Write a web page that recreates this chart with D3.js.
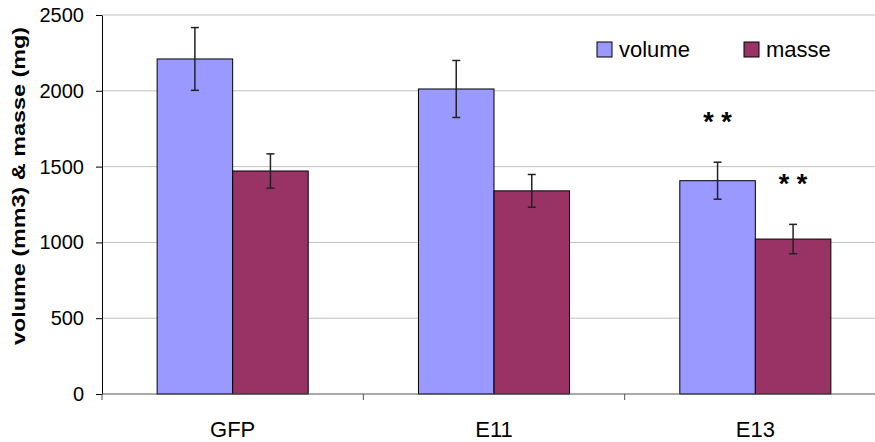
<!DOCTYPE html>
<html><head><meta charset="utf-8">
<script src="https://cdn.jsdelivr.net/npm/d3@7"></script>
<style>body{margin:0;background:#fff}svg{display:block}text{font-family:"Liberation Sans",Arial,sans-serif}</style>
</head><body><svg id="c" width="875" height="442"></svg>
<script>
const categories = ["GFP", "E11", "E13"];
const seriesNames = ["volume", "masse"];
const volume = [2210, 2012, 1407];
const volumeErr = [207, 188, 122];
const masse = [1471, 1340, 1022];
const masseErr = [113, 108, 97];
const yTicks = [0, 500, 1000, 1500, 2000, 2500];
const significance = [{cat: "E13", series: "volume", label: "* *"}, {cat: "E13", series: "masse", label: "* *"}];

const colors = {volume: "#9999ff", masse: "#993366"};
const data = categories.map((c, i) => ({cat: c, values: [
  {series: "volume", v: volume[i], e: volumeErr[i]},
  {series: "masse", v: masse[i], e: masseErr[i]}]}));

const svg = d3.select("#c");
const L = 102, R = 886, T = 15, B = 394;
const x = d3.scaleBand().domain(categories).range([L, R]).paddingInner(0).paddingOuter(0);
const xs = d3.scaleBand().domain(seriesNames).range([0, x.bandwidth()]).paddingInner(0).paddingOuter(0.73);
const y = d3.scaleLinear().domain([0, 2500]).range([B, T]);

// gridlines
svg.append("g").selectAll("line").data(yTicks.filter(d => d > 0)).join("line")
  .attr("x1", L).attr("x2", R).attr("y1", d => y(d)).attr("y2", d => y(d))
  .attr("stroke", "#c0c0c0").attr("stroke-width", 1);

// bars
const g = svg.append("g").selectAll("g").data(data).join("g")
  .attr("transform", d => `translate(${x(d.cat)},0)`);
g.selectAll("rect").data(d => d.values).join("rect")
  .attr("x", d => xs(d.series)).attr("width", xs.bandwidth())
  .attr("y", d => y(d.v)).attr("height", d => y(0) - y(d.v))
  .attr("fill", d => colors[d.series]).attr("stroke", "#000").attr("stroke-width", 1);

// error bars
const eb = g.selectAll("g.eb").data(d => d.values).join("g").attr("class", "eb")
  .attr("stroke", "#222").attr("stroke-width", 1.5);
const cx = d => xs(d.series) + xs.bandwidth()/2;
eb.append("line").attr("x1", cx).attr("x2", cx)
  .attr("y1", d => y(d.v + d.e)).attr("y2", d => y(d.v - d.e));
eb.append("line").attr("x1", d => cx(d) - 4).attr("x2", d => cx(d) + 4)
  .attr("y1", d => y(d.v + d.e)).attr("y2", d => y(d.v + d.e));
eb.append("line").attr("x1", d => cx(d) - 4).attr("x2", d => cx(d) + 4)
  .attr("y1", d => y(d.v - d.e)).attr("y2", d => y(d.v - d.e));

// significance
svg.append("g").selectAll("text").data(significance).join("text")
  .attr("x", d => x(d.cat) + xs(d.series) + xs.bandwidth()/2)
  .attr("y", d => { const r = data.find(k => k.cat === d.cat).values.find(v => v.series === d.series); return y(r.v + r.e) - 31; })
  .attr("text-anchor", "middle").attr("font-size", 27).attr("font-weight", "bold").text(d => d.label);

// y axis
const ya = svg.append("g").attr("transform", `translate(${L},0)`)
  .call(d3.axisLeft(y).tickValues(yTicks).tickFormat(d3.format("d")).tickSize(6).tickPadding(12).tickSizeOuter(0));
ya.select(".domain").attr("stroke", "#000");
ya.selectAll(".tick line").attr("stroke", "#000");
ya.selectAll("text").attr("font-size", 20).attr("fill", "#000").attr("font-family", "Liberation Sans, Arial, sans-serif");

// x axis
const xa = svg.append("g").attr("transform", `translate(0,${B})`);
xa.append("line").attr("x1", L).attr("x2", R).attr("stroke", "#555").attr("stroke-width", 1);
xa.selectAll("line.t").data(categories).join("line").attr("class", "t")
  .attr("x1", d => x(d)).attr("x2", d => x(d)).attr("y1", 0).attr("y2", 6).attr("stroke", "#555");
xa.selectAll("text").data(categories).join("text")
  .attr("x", d => x(d) + x.bandwidth()/2).attr("y", 43).attr("text-anchor", "middle")
  .attr("font-size", 22).text(d => d);

// y title
svg.append("text").attr("transform", "translate(25,186) rotate(-90)").attr("text-anchor", "middle")
  .attr("font-size", 19).attr("font-weight", "bold")
  .attr("textLength", 318).attr("lengthAdjust", "spacingAndGlyphs")
  .text("volume (mm3) & masse (mg)");

// legend
const leg = svg.append("g").selectAll("g").data(seriesNames).join("g")
  .attr("transform", (d, i) => `translate(${597 + i * 147},42)`);
leg.append("rect").attr("width", 15).attr("height", 15).attr("fill", d => colors[d]).attr("stroke", "#000");
leg.append("text").attr("x", 22).attr("y", 15).attr("font-size", 22).text(d => d);
</script></body></html>
